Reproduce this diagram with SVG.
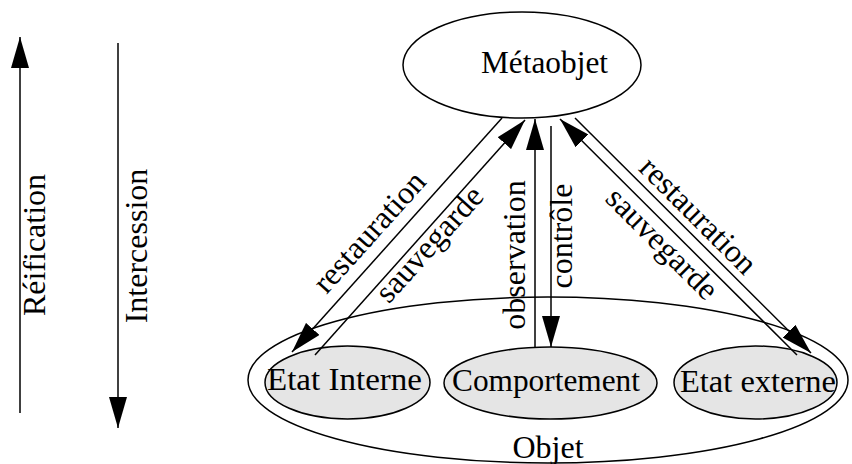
<svg xmlns="http://www.w3.org/2000/svg" width="852" height="464" viewBox="0 0 852 464">
<defs>
<style>
.ln{stroke:#000;stroke-width:1.5;fill:none}
.el{stroke:#000;stroke-width:1.5}
.t{font-family:"Liberation Serif","Times New Roman",serif;font-size:32px;fill:#000}
.m{text-anchor:middle}
</style>
<marker id="ah" markerUnits="userSpaceOnUse" markerWidth="32" markerHeight="18" refX="31" refY="9" orient="auto" viewBox="0 0 32 18">
<path d="M0,0 L31,9 L0,18 z" fill="#000"/>
</marker>
</defs>
<rect width="852" height="464" fill="#fff"/>

<g id="objet">
<ellipse class="el" cx="548" cy="380" rx="300" ry="83" fill="none"/>
<text class="t m" x="548" y="458">Objet</text>
</g>
<g id="etat-interne">
<ellipse class="el" cx="347.5" cy="382.5" rx="82.5" ry="36.5" fill="#e5e5e5"/>
<text class="t" x="267" y="390" textLength="155" lengthAdjust="spacingAndGlyphs">Etat Interne</text>
</g>
<g id="comportement">
<ellipse class="el" cx="550.5" cy="383" rx="106.5" ry="36" fill="#e5e5e5"/>
<text class="t" x="452" y="391" textLength="188" lengthAdjust="spacingAndGlyphs">Comportement</text>
</g>
<g id="etat-externe">
<ellipse class="el" cx="755.5" cy="382.5" rx="81.5" ry="36.5" fill="#e5e5e5"/>
<text class="t" x="680" y="392" textLength="156" lengthAdjust="spacingAndGlyphs">Etat externe</text>
</g>
<g id="metaobjet">
<ellipse class="el" cx="522" cy="65" rx="119" ry="53" fill="#fff"/>
<text class="t" x="481" y="73" textLength="127" lengthAdjust="spacingAndGlyphs">Métaobjet</text>
</g>

<g id="connectors">
<line class="ln" x1="502" y1="118" x2="292" y2="352" marker-end="url(#ah)"/>
<line class="ln" x1="315" y1="355" x2="525" y2="120" marker-end="url(#ah)"/>
<line class="ln" x1="535" y1="348" x2="535" y2="119" marker-end="url(#ah)"/>
<line class="ln" x1="551" y1="126" x2="551" y2="347" marker-end="url(#ah)"/>
<line class="ln" x1="797" y1="355" x2="560" y2="119" marker-end="url(#ah)"/>
<line class="ln" x1="575" y1="118" x2="811" y2="353" marker-end="url(#ah)"/>
<line class="ln" x1="20" y1="413" x2="20" y2="37" marker-end="url(#ah)"/>
<line class="ln" x1="118" y1="43" x2="118" y2="428" marker-end="url(#ah)"/>
</g>

<g id="labels">
<text class="t m" transform="translate(45,245) rotate(-90)">Réification</text>
<text class="t m" transform="translate(147,246) rotate(-90)">Intercession</text>
<text class="t m" transform="translate(525,255) rotate(-90)">observation</text>
<text class="t m" transform="translate(572,236) rotate(-90)">contrôle</text>
<text class="t m" transform="translate(377,239) rotate(-48)">restauration</text>
<text class="t m" transform="translate(437,251) rotate(-48)">sauvegarde</text>
<text class="t m" transform="translate(691,223) rotate(45)">restauration</text>
<text class="t m" transform="translate(655,251) rotate(45)">sauvegarde</text>
</g>
</svg>
